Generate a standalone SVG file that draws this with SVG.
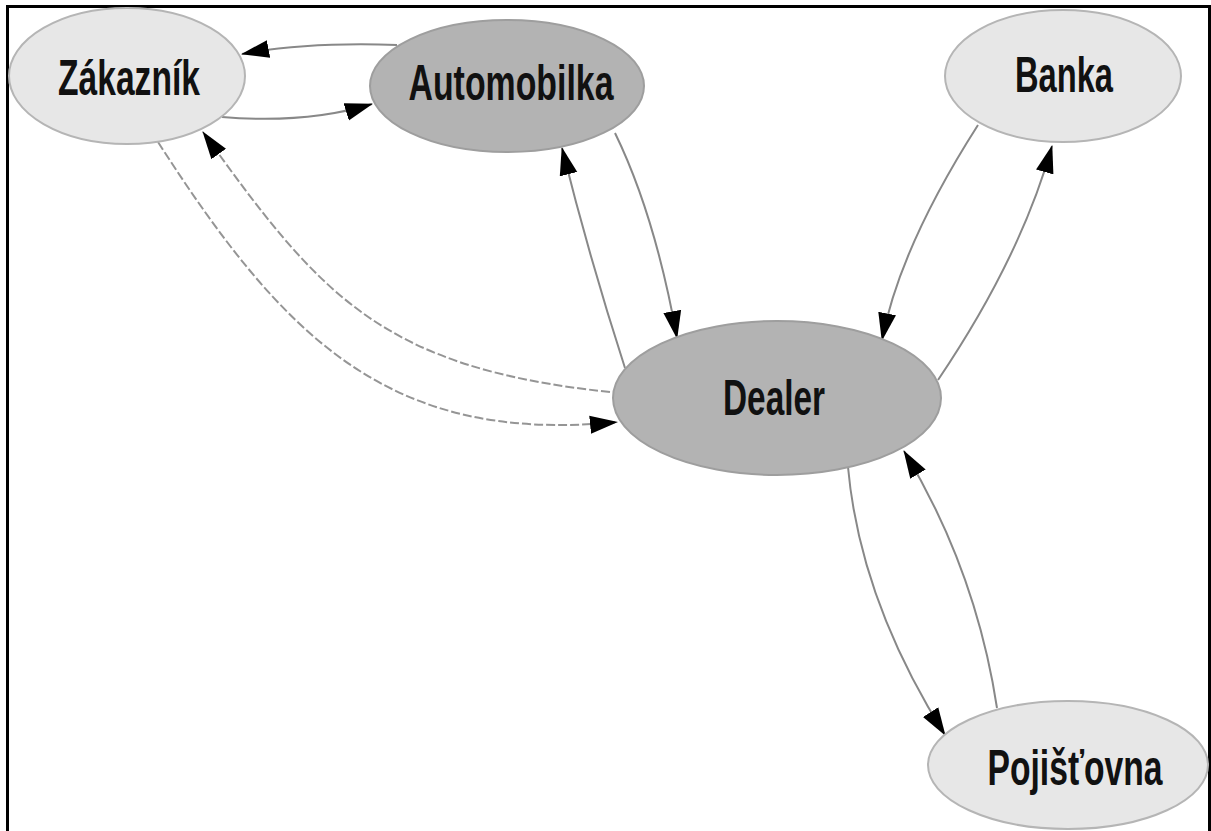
<svg xmlns="http://www.w3.org/2000/svg" width="1211" height="831" viewBox="0 0 1211 831">
<style>
.light{fill:#e7e7e7;stroke:#b5b5b5;stroke-width:2}
.dark{fill:#b3b3b3;stroke:#9e9e9e;stroke-width:2}
.lbl{font-family:"Liberation Sans Narrow","Liberation Sans",Arial,sans-serif;font-weight:bold;font-size:50px;fill:#111;text-anchor:middle}
.c{fill:none;stroke:#888;stroke-width:2;marker-end:url(#ah)}
.d{stroke-dasharray:9 3;stroke:#959595}
</style>
<defs>
<marker id="ah" markerUnits="userSpaceOnUse" markerWidth="28" markerHeight="20" viewBox="0 0 28 20" refX="27" refY="10" orient="auto">
<path d="M0,1 L28,10 L0,19 z" fill="#000"/>
</marker>
</defs>
<rect x="0" y="0" width="1211" height="831" fill="#fff"/>
<rect x="7.5" y="6.5" width="1202" height="900" fill="none" stroke="#000" stroke-width="3"/>
<g id="connectors">
<path class="c" d="M397,45 C340,43 290,45 242,54"/>
<path class="c" d="M222,117 C270,121 320,120 372,104"/>
<path class="c d" d="M610,392 C380,368 319,294 203,132"/>
<path class="c d" d="M158,142 C282,335 387,445 617,422"/>
<path class="c" d="M625,368 Q590,260 562,148"/>
<path class="c" d="M615,133 Q655,215 677,338"/>
<path class="c" d="M978,125 Q900,247 882,340"/>
<path class="c" d="M938,380 Q1021,257 1052,146"/>
<path class="c" d="M848,467 Q860,600 945,735"/>
<path class="c" d="M997,708 Q976,570 904,451"/>
</g>
<g id="zakaznik">
<ellipse class="light" cx="127" cy="76" rx="118" ry="68"/>
<text class="lbl" x="129" y="95" textLength="142" lengthAdjust="spacingAndGlyphs">Zákazník</text>
</g>
<g id="automobilka">
<ellipse class="dark" cx="507" cy="86" rx="137" ry="66"/>
<text class="lbl" x="511" y="100" textLength="205" lengthAdjust="spacingAndGlyphs">Automobilka</text>
</g>
<g id="banka">
<ellipse class="light" cx="1063" cy="76" rx="118" ry="66"/>
<text class="lbl" x="1064" y="92" textLength="98" lengthAdjust="spacingAndGlyphs">Banka</text>
</g>
<g id="dealer">
<ellipse class="dark" cx="777" cy="398" rx="164" ry="77"/>
<text class="lbl" x="774" y="415" textLength="102" lengthAdjust="spacingAndGlyphs">Dealer</text>
</g>
<g id="pojistovna">
<ellipse class="light" cx="1068" cy="765" rx="140" ry="64"/>
<text class="lbl" x="1075" y="785" textLength="175" lengthAdjust="spacingAndGlyphs">Pojišťovna</text>
</g>
</svg>
